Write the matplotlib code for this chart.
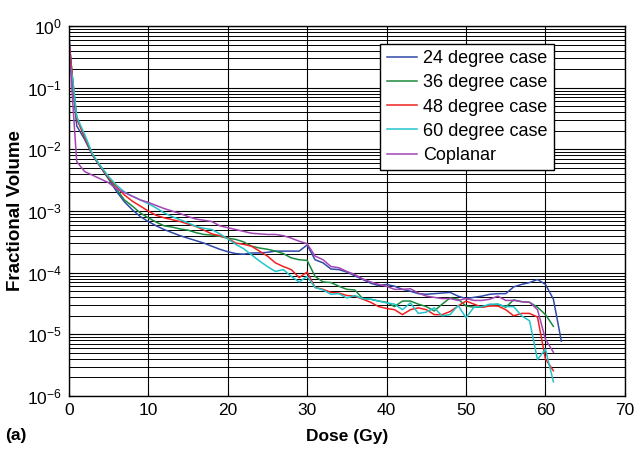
import numpy as np
import matplotlib
matplotlib.use("Agg")
import matplotlib.pyplot as plt

plt.rcParams['font.family'] = ['Liberation Sans', 'DejaVu Sans']

# ------------------ DATA (log10 of fractional volume) ------------------
dose = [0, 0.5] + list(range(1, 62))
dose_24 = dose + [62]

log_24 = [-0.10, -0.98, -1.62, -1.84, -2.10, -2.29, -2.48, -2.68, -2.85, -2.98, -3.09,   # 0..9
          -3.17, -3.24, -3.30, -3.35, -3.40, -3.44, -3.48, -3.52, -3.57, -3.62,         # 10..19
          -3.66, -3.69, -3.70, -3.68, -3.68, -3.67, -3.65, -3.65, -3.65, -3.65,         # 20..29
          -3.55, -3.79, -3.84, -3.94, -3.95, -3.99, -4.05, -4.11, -4.17, -4.21,         # 30..39
          -4.19, -4.22, -4.27, -4.30, -4.34, -4.35, -4.34, -4.33, -4.32, -4.38,         # 40..49
          -4.42, -4.40, -4.38, -4.35, -4.34, -4.34, -4.23, -4.19, -4.16, -4.11,         # 50..59
          -4.19, -4.43, -5.11]                                                          # 60..62

log_36 = [-0.20, -0.90, -1.50, -1.80, -2.09, -2.28, -2.47, -2.64, -2.82, -2.92, -3.03,
          -3.11, -3.18, -3.24, -3.26, -3.29, -3.31, -3.35, -3.38, -3.39, -3.41,
          -3.44, -3.46, -3.50, -3.57, -3.60, -3.62, -3.65, -3.69, -3.76, -3.79,
          -3.80, -4.06, -4.15, -4.16, -4.22, -4.27, -4.28, -4.42, -4.43, -4.46,
          -4.48, -4.55, -4.46, -4.46, -4.51, -4.55, -4.62, -4.51, -4.41, -4.43,
          -4.54, -4.56, -4.56, -4.53, -4.51, -4.56, -4.44, -4.47, -4.48, -4.56,
          -4.68, -4.87]

log_48 = [-0.20, -0.90, -1.50, -1.80, -2.09, -2.28, -2.46, -2.60, -2.74, -2.84, -2.92,
          -3.00, -3.07, -3.11, -3.14, -3.17, -3.21, -3.25, -3.31, -3.37, -3.40,
          -3.44, -3.52, -3.54, -3.57, -3.65, -3.73, -3.84, -3.90, -3.95, -4.08,
          -3.99, -4.24, -4.27, -4.32, -4.33, -4.37, -4.38, -4.43, -4.48, -4.55,
          -4.58, -4.60, -4.68, -4.60, -4.57, -4.60, -4.68, -4.68, -4.63, -4.54,
          -4.46, -4.51, -4.56, -4.54, -4.54, -4.60, -4.70, -4.66, -4.66, -4.72,
          -5.40, -5.59]

log_60 = [-0.50, -0.87, -1.47, -1.76, -2.08, -2.27, -2.44, -2.58, -2.69, -2.76, -2.82,
          -2.88, -2.95, -3.03, -3.09, -3.14, -3.19, -3.25, -3.28, -3.30, -3.37,
          -3.45, -3.54, -3.61, -3.71, -3.81, -3.90, -3.98, -3.95, -4.06, -4.15,
          -4.06, -4.24, -4.28, -4.35, -4.34, -4.41, -4.37, -4.42, -4.43, -4.46,
          -4.49, -4.51, -4.60, -4.49, -4.66, -4.64, -4.57, -4.70, -4.68, -4.53,
          -4.73, -4.56, -4.55, -4.51, -4.51, -4.55, -4.55, -4.70, -4.78, -5.41,
          -5.24, -5.77]

log_cop = [-0.15, -1.25, -2.20, -2.36, -2.42, -2.48, -2.54, -2.64, -2.70, -2.76, -2.82,
           -2.86, -2.91, -2.96, -3.00, -3.04, -3.09, -3.13, -3.15, -3.17, -3.24,
           -3.27, -3.30, -3.33, -3.36, -3.37, -3.38, -3.38, -3.40, -3.44, -3.49,
           -3.53, -3.73, -3.79, -3.90, -3.92, -3.98, -4.03, -4.10, -4.15, -4.19,
           -4.22, -4.27, -4.27, -4.26, -4.33, -4.38, -4.40, -4.42, -4.42, -4.45,
           -4.42, -4.45, -4.45, -4.43, -4.38, -4.45, -4.45, -4.47, -4.48, -4.60,
           -5.08, -5.29]

labels = ["24 degree case", "36 degree case", "48 degree case", "60 degree case", "Coplanar"]
colors = ["#2f4aa8", "#1b8a3e", "#f02020", "#22c4cc", "#a344b4"]

# ------------------ PLOT ------------------
fig = plt.figure(figsize=(6.37, 4.49), dpi=100)
ax = fig.add_axes([0.108, 0.118, 0.873, 0.824])

series = [(dose_24, log_24), (dose, log_36), (dose, log_48), (dose, log_60), (dose, log_cop)]
for (x, ly), lab, c in zip(series, labels, colors):
    ax.plot(x, 10.0 ** np.array(ly), color=c, lw=1.1, label=lab)

ax.set_yscale('log')
ax.set_xlim(0, 70)
ax.set_ylim(1e-6, 1)
ax.set_xticks(range(0, 71, 10))
ax.set_yticks([1e-6, 1e-5, 1e-4, 1e-3, 1e-2, 1e-1, 1])
ax.yaxis.set_minor_locator(matplotlib.ticker.LogLocator(base=10, subs=np.arange(2, 10), numticks=20))
ax.yaxis.set_minor_formatter(matplotlib.ticker.NullFormatter())

ax.grid(True, which='major', axis='both', color='black', lw=0.8)
ax.grid(True, which='minor', axis='y', color='black', lw=0.7)
ax.set_axisbelow(True)
ax.tick_params(which='both', direction='in', labelsize=12.5, length=3, pad=5)
for s in ax.spines.values():
    s.set_linewidth(1.0)

ax.set_xlabel("Dose (Gy)", fontsize=12.5, fontweight='bold', labelpad=8)
ax.set_ylabel("Fractional Volume", fontsize=13.5, fontweight='bold', labelpad=2)
fig.text(0.008, 0.02, "(a)", fontsize=12.5, fontweight='bold')

leg = ax.legend(loc='upper right', bbox_to_anchor=(0.872, 0.952), fontsize=13,
                handlelength=1.7, handletextpad=0.3, borderaxespad=0, fancybox=False,
                framealpha=1, edgecolor='black', labelspacing=0.4, borderpad=0.35)
leg.get_frame().set_linewidth(1.0)

fig.savefig("out.png", dpi=100)
